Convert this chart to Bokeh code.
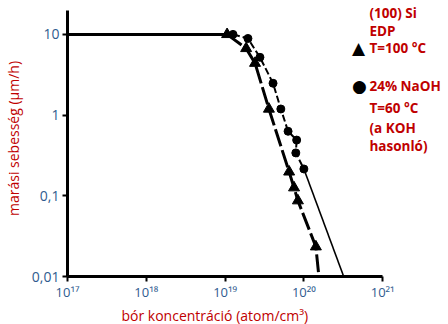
from bokeh.plotting import figure
from bokeh.models import FixedTicker, Label, Title
from bokeh.embed import file_html
from bokeh.resources import INLINE

# ---- data ----
plateau_x = [1e17, 1.06e19]
plateau_y = [10, 10]

edp_x = [1.06e19, 1.85e19, 2.4e19, 3.6e19, 6.5e19, 7.5e19, 8.4e19, 1.42e20, 1.55e20]
edp_y = [10, 6.7, 4.4, 1.19, 0.198, 0.126, 0.087, 0.0234, 0.01]
edp_mark_x = edp_x[:-1]
edp_mark_y = edp_y[:-1]

naoh_x = [1.26e19, 1.95e19, 2.77e19, 4.06e19, 5.1e19, 6.3e19, 8.1e19, 7.9e19, 1.0e20]
naoh_y = [10, 8.9, 5.2, 2.48, 1.19, 0.63, 0.49, 0.34, 0.215]

extrap_x = [1.0e20, 3.2e20]
extrap_y = [0.215, 0.01]

x_ticks = [1e17, 1e18, 1e19, 1e20, 1e21]
x_tick_labels = ["10¹⁷", "10¹⁸", "10¹⁹", "10²⁰", "10²¹"]
y_ticks = [0.01, 0.1, 1, 10]
y_tick_labels = ["0,01", "0,1", "1", "10"]

x_title = "bór koncentráció (atom/cm³)"
y_title = "marási sebesség (µm/h)"
legend_lines = ["(100) Si", "EDP", "T=100 °C", "24% NaOH", "T=60 °C", "(a KOH", "hasonló)"]

RED = "#C00000"
BLUE = "#2F5B8F"
FONT = "Open Sans"

# frame spans to the right/top edges so the legend text is not clipped;
# axis bounds keep the axis lines at the drawn extent
X_MAX = 10 ** (17 + (448 - 66) / 79)
Y_MAX = 10 ** (1 + 34 / 81)

p = figure(width=448, height=324, x_axis_type="log", y_axis_type="log",
           x_range=(1e17, X_MAX), y_range=(0.01, Y_MAX),
           output_backend="svg", toolbar_location=None,
           min_border_left=66, min_border_right=0,
           min_border_top=0, min_border_bottom=48)
p.outline_line_color = None
p.grid.visible = False
p.background_fill_color = "white"
p.border_fill_color = "white"

p.xaxis.ticker = FixedTicker(ticks=x_ticks)
p.yaxis.ticker = FixedTicker(ticks=y_ticks)
p.xaxis.bounds = (1e17, 1e21)
p.yaxis.bounds = (0.01, 19.8)
p.xaxis.major_label_overrides = {t: l for t, l in zip(x_ticks, x_tick_labels)}
p.yaxis.major_label_overrides = {t: l for t, l in zip(y_ticks, y_tick_labels)}
for ax in (p.xaxis, p.yaxis):
    ax.axis_line_width = 3
    ax.axis_line_color = "black"
    ax.major_tick_line_width = 2
    ax.major_tick_out = 5
    ax.major_tick_in = 0
    ax.minor_tick_line_color = None
    ax.major_label_text_color = BLUE
    ax.major_label_text_font = FONT
    ax.major_label_text_font_size = "14px"
    ax.axis_label_text_color = RED
    ax.axis_label_text_font = FONT
    ax.axis_label_text_font_size = "14px"
    ax.axis_label_text_font_style = "normal"
p.xaxis.major_label_text_font_size = "13px"
p.yaxis.axis_label = y_title
p.xaxis.major_label_standoff = 1
p.yaxis.major_label_standoff = 3
p.yaxis.axis_label_standoff = 6

# x-axis title placed under the drawn axis extent (not the wider frame)
p.add_layout(Title(text=x_title, align="left", offset=54, text_color=RED,
                   text_font=FONT, text_font_size="14px", text_font_style="normal",
                   standoff=0), "below")

# plateau
p.line(plateau_x, plateau_y, line_width=3, line_color="black")
# EDP
p.line(edp_x, edp_y, line_width=3, line_color="black", line_dash="18 4")
p.scatter(edp_mark_x, edp_mark_y, marker="triangle", size=11, color="black")
# NaOH
p.line(naoh_x, naoh_y, line_width=2, line_color="black", line_dash="7 3")
p.scatter(naoh_x, naoh_y, marker="circle", size=8, color="black")
# extrapolation
p.line(extrap_x, extrap_y, line_width=1.6, line_color="black")

# legend text (screen units relative to frame bottom-left)
ys = [264, 246, 229, 191, 169, 149, 131]
for t, yy in zip(legend_lines, ys):
    p.add_layout(Label(x=302, y=yy, x_units="screen", y_units="screen", text=t,
                       text_color=RED, text_font=FONT, text_font_style="bold",
                       text_font_size="13.5px", text_baseline="middle"))
p.add_layout(Label(x=291, y=229, x_units="screen", y_units="screen", text="▲",
                   text_color="black", text_font="DejaVu Sans", text_font_size="17px",
                   text_baseline="middle", text_align="center"))
p.add_layout(Label(x=292, y=191, x_units="screen", y_units="screen", text="●",
                   text_color="black", text_font="DejaVu Sans", text_font_size="17px",
                   text_baseline="middle", text_align="center"))

open("out.html", "w").write(file_html(p, INLINE))
